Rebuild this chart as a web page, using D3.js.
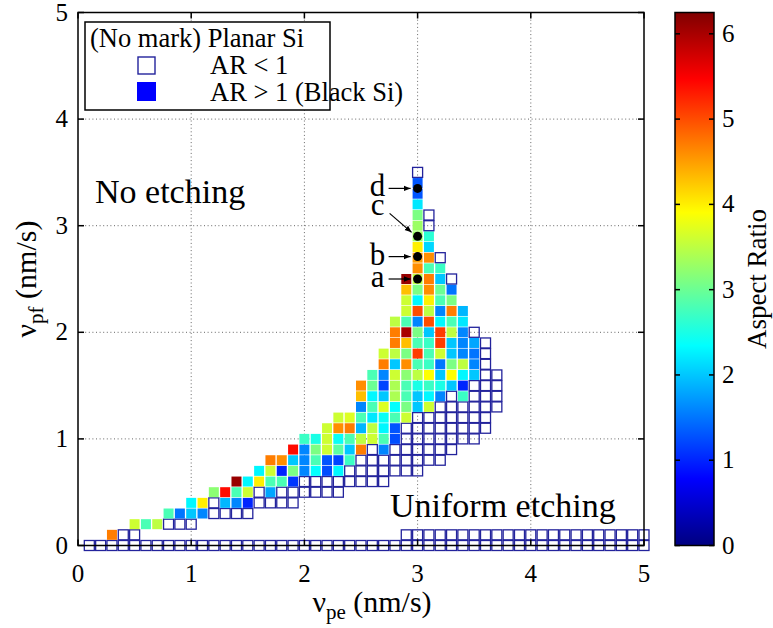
<!DOCTYPE html>
<html><head><meta charset="utf-8">
<script src="https://cdn.jsdelivr.net/npm/d3@7"></script>
<style>
body{margin:0;background:#fff}
text{font-family:"Liberation Serif","Times New Roman",serif;fill:#000}
</style>
</head><body>
<svg id="chart" width="773" height="628"></svg>
<script>
// ---------------- DATA ----------------
const H = 0.5; // AR < 1 (drawn as hollow square)
const vpfRows = [0.0,0.1,0.2,0.3,0.4,0.5,0.6,0.7,0.8,0.9,1.0,1.1,1.2,1.3,1.4,1.5,1.6,1.7,1.8,1.9,
                 2.0,2.1,2.2,2.3,2.4,2.5,2.6,2.7,2.8,2.9,3.0,3.1,3.2,3.3,3.4,3.5];
const rowStart = [0.1,0.3,0.5,0.8,1.0,1.2,1.4,1.6,1.7,1.9,
                  2.0,2.2,2.3,2.5,2.5,2.5,2.6,2.7,2.7,2.8,
                  2.8,2.8,2.9,2.9,2.9,2.9,3.0,3.0,3.0,3.0,3.0,3.0,3.0,3.0,3.0,3.0];
const rowAR = [
  [H,H,H,H,H,H,H,H,H,H,H,H,H,H,H,H,H,H,H,H,H,H,H,H,H,H,H,H,H,H,H,H,H,H,H,H,H,H,H,H,H,H,H,H,H,H,H,H,H,H],
  [4.7,H,H,null,null,null,null,null,null,null,null,null,null,null,null,null,null,null,null,null,null,null,null,null,null,null,
   H,H,H,H,H,H,H,H,H,H,H,H,H,H,H,H,H,H,H,H,H,H],
  [3.6,2.8,3.5,H,H,H],
  [2.8,1.5,2.0,1.6,H,H,H,H],
  [2.3,4.0,H,1.9,1.6,1.0,H,H,H,H],
  [3.2,5.4,2.8,3.6,H,1.8,H,H,H,H,H,H],
  [6.1,2.3,4.0,2.8,2.8,1.1,H,H,H,H,H,H,H,H],
  [2.3,3.6,1.0,3.1,1.6,2.35,1.25,2.3,H,H,H,H,H,H,H],
  [4.7,4.6,2.0,1.6,2.8,1.3,1.2,2.7,H,H,H,H,H,H,H,H],
  [5.4,1.6,3.1,3.6,2.9,2.0,4.7,H,1.6,H,H,H,H,H,H],
  [2.7,2.5,3.6,2.4,2.8,3.5,3.6,2.8,1.25,H,H,H,H,H,H,H],
  [3.6,4.6,4.7,1.9,3.5,2.3,1.3,H,H,H,H,H,H,H,H],
  [3.6,3.7,2.8,2.2,2.4,2.8,3.6,H,H,H,H,H,H,H],
  [1.6,2.8,3.7,2.35,3.1,2.0,3.6,H,H,H,H,H,H],
  [4.3,2.3,2.0,3.4,2.8,2.0,2.3,1.6,H,2.7,H,H,H],
  [4.6,3.0,1.2,3.4,2.8,2.5,2.7,2.5,2.0,1.0,H,H,H],
  [2.8,1.6,3.6,3.2,3.5,3.9,2.0,3.9,2.3,2.0,H,H],
  [4.7,2.0,4.6,2.8,2.7,1.5,3.1,3.5,1.6,H],
  [3.6,3.5,3.1,5.1,2.8,3.6,2.0,1.6,1.5,H],
  [4.7,4.3,2.8,2.7,5.1,2.0,1.6,1.8,H],
  [4.7,6.0,3.1,2.0,5.1,3.5,1.6,H],
  [3.5,2.8,1.6,5.0,2.3,2.8,2.2],
  [3.6,5.0,3.5,1.6,4.7,1.9],
  [3.6,2.3,4.0,2.8,3.1],
  [4.3,3.1,4.6,3.0,1.5],
  [6.1,3.5,4.7,2.0,H],
  [4.6,2.8,2.7],
  [4.5,4.6,H],
  [4.0,2.1],
  [3.3,2.6],
  [3.3,H],
  [3.1,H],
  [2.2],
  [1.3],
  [1.3],
  [H]
];
const xTicks = [0,1,2,3,4,5];
const yTicks = [0,1,2,3,4,5];
const cbTicks = [0,1,2,3,4,5,6];
const arMax = 6.25;
const pointLabels = ["a","b","c","d"];
const pointVpe = [3.0,3.0,3.0,3.0];
const pointVpf = [2.5,2.71,2.9,3.35];
const legendTexts = ["(No mark) Planar Si","AR < 1","AR > 1 (Black Si)"];

// ---------------- LAYOUT ----------------
const svg = d3.select("#chart");
const L = 78, R = 644, T = 12.5, B = 545.5;
const x = d3.scaleLinear().domain([0,5]).range([L,R]);
const y = d3.scaleLinear().domain([0,5]).range([B,T]);
const jetStops = [0,0.125,0.375,0.625,0.875,1];
const jetCols = ["#000080","#0000ff","#00ffff","#ffff00","#ff0000","#800000"];
const color = d3.scaleLinear().domain(jetStops.map(t=>t*arMax)).range(jetCols).clamp(true);

// grid
const grid = svg.append("g").attr("stroke","#666").attr("stroke-width",1).attr("stroke-dasharray","1,2.6");
grid.selectAll(".gx").data(xTicks.filter(d=>d>0&&d<5)).join("line")
  .attr("x1",d=>x(d)).attr("x2",d=>x(d)).attr("y1",T).attr("y2",B);
grid.selectAll(".gy").data(yTicks.filter(d=>d>0&&d<5)).join("line")
  .attr("y1",d=>y(d)).attr("y2",d=>y(d)).attr("x1",L).attr("x2",R);

// cells
const cells = [];
vpfRows.forEach((vpf,ri)=>{
  rowAR[ri].forEach((ar,i)=>{
    if(ar===null) return;
    cells.push({vpe: Math.round(rowStart[ri]*10+i)/10, vpf, ar});
  });
});
const cw = 10, ch = 10;
svg.append("g").selectAll("rect").data(cells).join("rect")
  .attr("x",d=>x(d.vpe)-cw/2).attr("y",d=>y(d.vpf)-ch/2)
  .attr("width",cw).attr("height",ch)
  .attr("fill",d=>d.ar<1?"none":color(d.ar))
  .attr("stroke",d=>d.ar<1?"#23239c":"none")
  .attr("stroke-width",1.3);

// annotated points
svg.append("defs").append("marker").attr("id","ah").attr("viewBox","0 0 10 10")
  .attr("refX",10).attr("refY",5).attr("markerWidth",7).attr("markerHeight",7)
  .attr("orient","auto-start-reverse").attr("markerUnits","userSpaceOnUse")
  .append("path").attr("d","M0,1 L10,5 L0,9 Z").attr("fill","#000");
const ann = svg.append("g");
pointLabels.forEach((lab,i)=>{
  const px = x(pointVpe[i]), py = y(pointVpf[i]);
  ann.append("circle").attr("cx",px).attr("cy",py).attr("r",4.5).attr("fill","#000");
  const diag = lab==="c";
  const tx = px-40, ty = diag ? py-21 : py+8;
  ann.append("text").attr("x",tx).attr("y",ty).attr("text-anchor","middle")
    .attr("font-size",31).text(lab);
  ann.append("line")
    .attr("x1",diag?px-28:px-29).attr("y1",diag?py-23:py)
    .attr("x2",diag?px-6:px-7).attr("y2",diag?py-4:py)
    .attr("stroke","#000").attr("stroke-width",1.2).attr("marker-end","url(#ah)");
});

// region texts
svg.append("text").attr("x",95).attr("y",203).attr("font-size",34).text("No etching");
svg.append("text").attr("x",390).attr("y",517).attr("font-size",34).text("Uniform etching");

// axes box + inward ticks
const ax = svg.append("g").attr("stroke","#000").attr("stroke-width",1.5);
ax.append("rect").attr("x",L).attr("y",T).attr("width",R-L).attr("height",B-T).attr("fill","none");
xTicks.forEach(t=>{
  ax.append("line").attr("x1",x(t)).attr("x2",x(t)).attr("y1",B).attr("y2",B-6);
  ax.append("line").attr("x1",x(t)).attr("x2",x(t)).attr("y1",T).attr("y2",T+6);
});
yTicks.forEach(t=>{
  ax.append("line").attr("y1",y(t)).attr("y2",y(t)).attr("x1",L).attr("x2",L+6);
  ax.append("line").attr("y1",y(t)).attr("y2",y(t)).attr("x1",R).attr("x2",R-6);
});
svg.append("g").selectAll("text").data(xTicks).join("text")
  .attr("x",d=>x(d)).attr("y",B+36).attr("text-anchor","middle").attr("font-size",25).text(d=>d);
svg.append("g").selectAll("text").data(yTicks).join("text")
  .attr("x",L-10).attr("y",d=>y(d)+8).attr("text-anchor","end").attr("font-size",25).text(d=>d);

// axis labels
const xl = svg.append("text").attr("x",372).attr("y",612).attr("text-anchor","middle").attr("font-size",30);
xl.append("tspan").text("ν");
xl.append("tspan").attr("dy",7).attr("font-size",21).text("pe");
xl.append("tspan").attr("dy",-7).text(" (nm/s)");
const yl = svg.append("text").attr("transform",`translate(36,${(T+B)/2}) rotate(-90)`)
  .attr("text-anchor","middle").attr("font-size",30);
yl.append("tspan").text("ν");
yl.append("tspan").attr("dy",7).attr("font-size",21).text("pf");
yl.append("tspan").attr("dy",-7).text(" (nm/s)");

// legend
const lg = svg.append("g");
lg.append("rect").attr("x",85).attr("y",22).attr("width",245).attr("height",88)
  .attr("fill","#fff").attr("stroke","#000").attr("stroke-width",1.5);
lg.append("text").attr("x",90).attr("y",47).attr("font-size",26.5).text(legendTexts[0]);
lg.append("rect").attr("x",138).attr("y",57).attr("width",17).attr("height",17)
  .attr("fill","none").attr("stroke","#23239c").attr("stroke-width",1.4);
lg.append("text").attr("x",210).attr("y",74).attr("font-size",26.5).text(legendTexts[1]);
lg.append("rect").attr("x",137).attr("y",82).attr("width",19).attr("height",19).attr("fill","#0000ff");
lg.append("text").attr("x",210).attr("y",101).attr("font-size",26.5).text(legendTexts[2]);

// colorbar
const cbL = 675, cbR = 714;
const cy = d3.scaleLinear().domain([0,arMax]).range([B,T]);
const grad = svg.select("defs").append("linearGradient").attr("id","jet")
  .attr("x1",0).attr("y1",1).attr("x2",0).attr("y2",0);
jetStops.forEach((s,i)=>grad.append("stop").attr("offset",s).attr("stop-color",jetCols[i]));
svg.append("rect").attr("x",cbL).attr("y",T).attr("width",cbR-cbL).attr("height",B-T).attr("fill","url(#jet)");
const cb = svg.append("g").attr("stroke","#000").attr("stroke-width",1.5);
cb.append("rect").attr("x",cbL).attr("y",T).attr("width",cbR-cbL).attr("height",B-T).attr("fill","none");
cbTicks.forEach(t=>{
  cb.append("line").attr("x1",cbL).attr("x2",cbL+5).attr("y1",cy(t)).attr("y2",cy(t));
  cb.append("line").attr("x1",cbR).attr("x2",cbR-5).attr("y1",cy(t)).attr("y2",cy(t));
});
svg.append("g").selectAll("text").data(cbTicks).join("text")
  .attr("x",cbR+8).attr("y",d=>cy(d)+8).attr("font-size",25).text(d=>d);
svg.append("text").attr("transform",`translate(766,${(T+B)/2}) rotate(-90)`)
  .attr("text-anchor","middle").attr("font-size",27).text("Aspect Ratio");
</script>
</body></html>
